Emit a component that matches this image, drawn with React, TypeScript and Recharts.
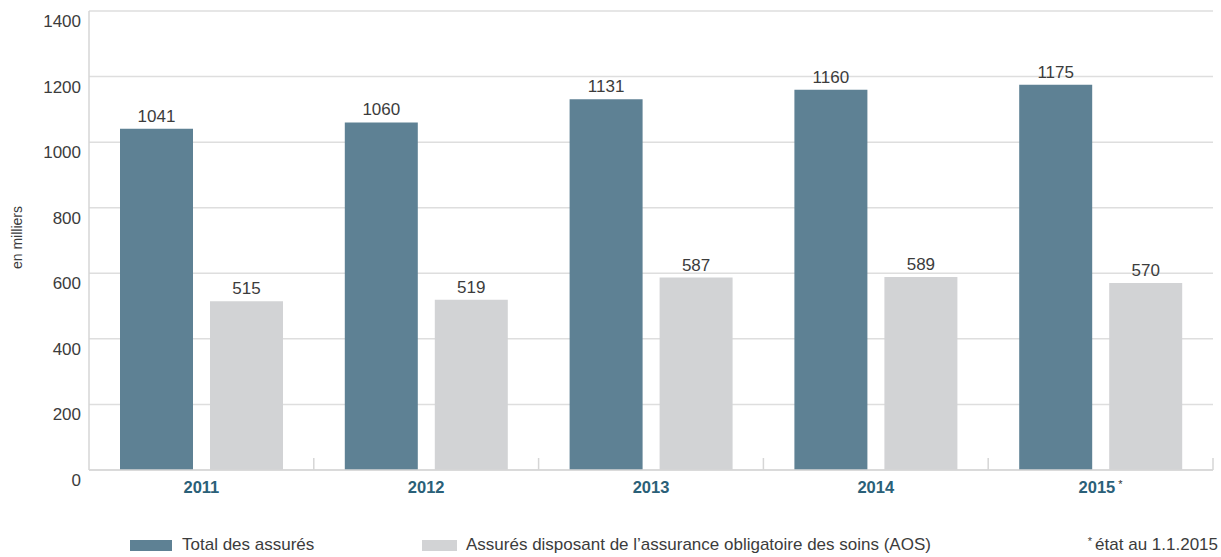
import React from 'react';
import { BarChart, Bar, XAxis, YAxis, CartesianGrid, LabelList } from 'recharts';

const categories = ['2011', '2012', '2013', '2014', '2015'];
const starredCategories = ['2015'];
const totalAssures = [1041, 1060, 1131, 1160, 1175];
const aosAssures = [515, 519, 587, 589, 570];
const yTicks = [0, 200, 400, 600, 800, 1000, 1200, 1400];
const seriesNames = ['Total des assurés', "Assurés disposant de l’assurance obligatoire des soins (AOS)"];
const seriesColors = ['#5e8194', '#d2d3d5'];
const yLabel = 'en milliers';
const footnote = 'état au 1.1.2015';

const data = categories.map((c, i) => ({ year: c, total: totalAssures[i], aos: aosAssures[i] }));

const FONT = '"Liberation Sans", Arial, sans-serif';
const AXIS = '#d6d6d6';

const YearTick = (props: any) => {
  const { x, y, payload, width, visibleTicksCount } = props;
  const starred = starredCategories.includes(payload.value);
  const half =
    payload && typeof payload.offset === 'number' && payload.offset > 0
      ? payload.offset
      : width && visibleTicksCount
      ? width / visibleTicksCount / 2
      : 112;
  const axisY = y - 8;
  return (
    <g>
      <line x1={x + half} x2={x + half} y1={axisY - 12} y2={axisY} stroke={AXIS} strokeWidth={1.5} />
      <text x={x} y={y} dy={14.5} textAnchor="middle" fontFamily={FONT} fontSize={16.5} fontWeight="bold" fill="#2a6078">
        <tspan>{payload.value}</tspan>
        {starred && <tspan dx={3} dy={-5} fontSize={11} fontWeight="normal" fill="#333">*</tspan>}
      </text>
    </g>
  );
};

const ValueTick = (props: any) => {
  const { x, y, payload } = props;
  return (
    <text x={x} y={y} dy={16} textAnchor="end" fontFamily={FONT} fontSize={17} fill="#3c3c3c">
      {payload.value}
    </text>
  );
};

const YLabelContent = (props: any) => {
  const vb = props.viewBox || { y: 11, height: 459 };
  const cy = vb.y + vb.height / 2 - 3;
  return (
    <text x={22} y={cy} textAnchor="middle" transform={`rotate(-90, 22, ${cy})`} fontFamily={FONT} fontSize={14} fill="#3c3c3c">
      {yLabel}
    </text>
  );
};

export default function App() {
  return (
    <div style={{ position: 'absolute', left: 0, top: 0, width: 1221, height: 557, background: '#fff', fontFamily: FONT, overflow: 'hidden' }}>
      <BarChart
        width={1221}
        height={557}
        data={data}
        margin={{ top: 11, right: 8, bottom: 86, left: 0 }}
        barCategoryGap={31}
        barGap={17}
      >
        <CartesianGrid vertical={false} stroke="#dedede" strokeWidth={1.5} />
        <XAxis
          dataKey="year"
          height={1}
          axisLine={{ stroke: AXIS, strokeWidth: 1.5 }}
          tickLine={false}
          tick={<YearTick />}
          interval={0}
        />
        <YAxis
          width={89}
          domain={[0, 1400]}
          ticks={yTicks}
          interval={0}
          axisLine={{ stroke: AXIS, strokeWidth: 1.5 }}
          tickLine={false}
          tick={<ValueTick />}
          label={{ content: <YLabelContent /> }}
        />
        <Bar dataKey="total" name={seriesNames[0]} fill={seriesColors[0]} isAnimationActive={false}>
          <LabelList dataKey="total" position="top" offset={7} fill="#3c3c3c" fontSize={17} fontFamily={FONT} />
        </Bar>
        <Bar dataKey="aos" name={seriesNames[1]} fill={seriesColors[1]} isAnimationActive={false}>
          <LabelList dataKey="aos" position="top" offset={7} fill="#3c3c3c" fontSize={17} fontFamily={FONT} />
        </Bar>
      </BarChart>
      <div style={{ position: 'absolute', left: 130, top: 535, display: 'flex', alignItems: 'center', fontSize: 17, color: '#3c3c3c', lineHeight: '20px' }}>
        <span style={{ display: 'inline-block', width: 42, height: 11, background: seriesColors[0], marginRight: 10 }} />
        <span>{seriesNames[0]}</span>
      </div>
      <div style={{ position: 'absolute', left: 422, top: 535, display: 'flex', alignItems: 'center', fontSize: 17, color: '#3c3c3c', lineHeight: '20px' }}>
        <span style={{ display: 'inline-block', width: 35, height: 11, background: seriesColors[1], marginRight: 9 }} />
        <span>{seriesNames[1]}</span>
      </div>
      <div style={{ position: 'absolute', right: 3, top: 535, fontSize: 17, color: '#3c3c3c', lineHeight: '20px', whiteSpace: 'nowrap' }}>
        <span style={{ fontSize: 11, position: 'relative', top: -5, marginRight: 3 }}>*</span>
        {footnote}
      </div>
    </div>
  );
}
